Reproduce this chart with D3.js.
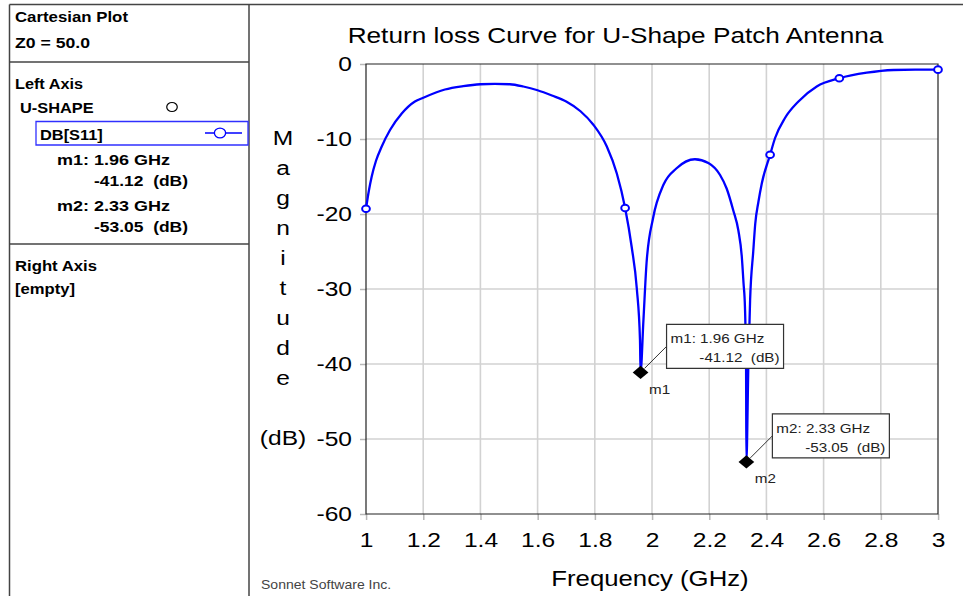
<!DOCTYPE html>
<html>
<head>
<meta charset="utf-8">
<script src="https://cdn.jsdelivr.net/npm/d3@7"></script>
<style>
  body { margin: 0; background: #fff; }
  svg { display: block; font-family: "Liberation Sans", Arial, sans-serif; }
  .pre { white-space: pre; }
</style>
</head>
<body>
<svg id="chart"></svg>
<script>
// DB[S11] of the U-shape patch
const freq = [1.000, 1.010, 1.020, 1.035, 1.055, 1.084, 1.125, 1.171, 1.200, 1.276, 1.340, 1.400, 1.450,
              1.503, 1.550, 1.600, 1.650, 1.700, 1.750, 1.795, 1.842, 1.877, 1.906, 1.929, 1.947, 1.958,
              1.960, 1.970, 1.981, 2.004, 2.040, 2.086, 2.150, 2.197, 2.238, 2.261, 2.284, 2.302, 2.314,
              2.320, 2.325, 2.329, 2.330, 2.337, 2.343, 2.354, 2.361, 2.372, 2.384, 2.413, 2.430, 2.465,
              2.512, 2.576, 2.655, 2.751, 2.844, 2.920, 3.000];
const s11 = [-19.3, -16.9, -15.0, -12.9, -11.0, -8.8, -6.6, -5.0, -4.5, -3.4, -2.95, -2.7, -2.65,
             -2.7, -3.0, -3.5, -4.2, -5.0, -6.3, -8.1, -11.0, -14.6, -19.2, -24.4, -30.0, -36.8,
             -41.12, -34.2, -26.5, -20.5, -16.1, -13.9, -12.7, -13.2, -14.8, -16.6, -19.5, -22.2, -25.7,
             -29.2, -32.4, -41.0, -53.05, -40.0, -31.5, -25.0, -21.3, -18.4, -15.9, -12.1, -9.9, -7.2,
             -5.0, -3.0, -1.9, -1.16, -0.8, -0.75, -0.75];

// simulated frequency points (open circles)
const simFreq = [1.000, 1.906, 2.413, 2.655, 3.000];
const simDb = [-19.3, -19.2, -12.1, -1.9, -0.75];

const markerNames = ["m1", "m2"];
const markerFreq = [1.96, 2.33];
const markerDb = [-41.12, -53.05];

const xTicks = [1, 1.2, 1.4, 1.6, 1.8, 2, 2.2, 2.4, 2.6, 2.8, 3];
const xTickLabels = ["1", "1.2", "1.4", "1.6", "1.8", "2", "2.2", "2.4", "2.6", "2.8", "3"];
const yTicks = [0, -10, -20, -30, -40, -50, -60];
const yTickLabels = ["0", "-10", "-20", "-30", "-40", "-50", "-60"];

const W = 963, H = 596;
const SX = 1.17;            // the screenshot is stretched sideways
const px = v => v / SX;     // screen x -> drawing x

const svg = d3.select("#chart").attr("width", W).attr("height", H);
const g = svg.append("g").attr("transform", "scale(" + SX + ",1)");

const x = d3.scaleLinear().domain([1, 3]).range([px(366), px(938)]);
const y = d3.scaleLinear().domain([-60, 0]).range([514, 64]);

// window frame + left info panel
const frame = [
  [9.5, 4.5, 963, 4.5],
  [9.5, 4.5, 9.5, 596],
  [249, 4.5, 249, 596],
  [9.5, 62, 249, 62],
  [9.5, 244, 249, 244]
];
g.append("g").selectAll("line")
  .data(frame)
  .join("line")
  .attr("x1", d => px(d[0])).attr("y1", d => d[1])
  .attr("x2", d => px(d[2])).attr("y2", d => d[3])
  .attr("stroke", "#444")
  .attr("stroke-width", 1.5)
  .attr("vector-effect", "non-scaling-stroke");

const panel = g.append("g").attr("font-size", "14px").attr("font-weight", "bold").attr("fill", "#000");
// text, left, baseline, width on screen (0 = natural)
const panelText = [
  ["Cartesian Plot", 15, 22, 113],
  ["Z0 = 50.0", 15, 48, 75],
  ["Left Axis", 15, 89, 68],
  ["U-SHAPE", 20, 113, 0],
  ["DB[S11]", 40, 140, 0],
  ["m1: 1.96 GHz", 57, 165, 113],
  ["-41.12  (dB)", 94, 186, 94],
  ["m2: 2.33 GHz", 57, 211, 113],
  ["-53.05  (dB)", 94, 232, 94],
  ["Right Axis", 15, 271, 82],
  ["[empty]", 15, 294, 60]
];
panel.selectAll("text")
  .data(panelText)
  .join("text")
  .attr("class", "pre")
  .attr("x", d => px(d[1]))
  .attr("y", d => d[2])
  .each(function(d) {
    if (d[3]) d3.select(this).attr("textLength", px(d[3])).attr("lengthAdjust", "spacingAndGlyphs");
  })
  .text(d => d[0]);

g.append("circle")
  .attr("cx", px(172)).attr("cy", 107).attr("r", 4.5)
  .attr("fill", "none").attr("stroke", "#000").attr("stroke-width", 1.2)
  .attr("vector-effect", "non-scaling-stroke");
g.append("rect")
  .attr("x", px(36)).attr("y", 121.5).attr("width", px(212)).attr("height", 23.5)
  .attr("fill", "none").attr("stroke", "#3030ff").attr("stroke-width", 1.3)
  .attr("vector-effect", "non-scaling-stroke");
g.append("line")
  .attr("x1", px(205)).attr("x2", px(242)).attr("y1", 133).attr("y2", 133)
  .attr("stroke", "#0000ff").attr("stroke-width", 1.3)
  .attr("vector-effect", "non-scaling-stroke");
g.append("circle")
  .attr("cx", px(220)).attr("cy", 133).attr("r", 4.8)
  .attr("fill", "#fff").attr("stroke", "#0000ff").attr("stroke-width", 1.3)
  .attr("vector-effect", "non-scaling-stroke");

// grid
g.append("g").selectAll("line")
  .data(xTicks.slice(1, -1))
  .join("line")
  .attr("x1", d => x(d)).attr("x2", d => x(d))
  .attr("y1", y(0)).attr("y2", y(-60))
  .attr("stroke", "#d2d2d2").attr("stroke-width", 1.6)
  .attr("vector-effect", "non-scaling-stroke");
g.append("g").selectAll("line")
  .data(yTicks.slice(1, -1))
  .join("line")
  .attr("x1", x(1)).attr("x2", x(3))
  .attr("y1", d => y(d)).attr("y2", d => y(d))
  .attr("stroke", "#d2d2d2").attr("stroke-width", 1.6)
  .attr("vector-effect", "non-scaling-stroke");

// axes
const yAxis = g.append("g")
  .attr("transform", "translate(" + x(1) + ",0)")
  .call(d3.axisLeft(y).tickValues(yTicks).tickSize(px(6)).tickPadding(px(8))
          .tickFormat((d, i) => yTickLabels[i]));
const xAxis = g.append("g")
  .attr("transform", "translate(0," + y(-60) + ")")
  .call(d3.axisBottom(x).tickValues(xTicks).tickSize(6).tickPadding(12)
          .tickFormat((d, i) => xTickLabels[i]));
[yAxis, xAxis].forEach(a => {
  a.select(".domain").remove();
  a.selectAll(".tick line").attr("stroke", "#b8b8b8").attr("stroke-width", 1.5)
    .attr("vector-effect", "non-scaling-stroke");
  a.selectAll(".tick text").attr("font-size", "21px").attr("fill", "#000")
    .attr("font-family", "'Liberation Sans', Arial, sans-serif");
});

g.append("rect")
  .attr("x", x(1)).attr("y", y(0))
  .attr("width", x(3) - x(1)).attr("height", y(-60) - y(0))
  .attr("fill", "none").attr("stroke", "#222").attr("stroke-width", 1.2)
  .attr("vector-effect", "non-scaling-stroke");

// the curve
const pts = freq.map((f, i) => [f, s11[i]]);
g.append("path")
  .datum(pts)
  .attr("d", d3.line().x(d => x(d[0])).y(d => y(d[1])).curve(d3.curveMonotoneX))
  .attr("fill", "none")
  .attr("stroke", "#0000ff")
  .attr("stroke-width", 2.3)
  .attr("stroke-linejoin", "round")
  .attr("vector-effect", "non-scaling-stroke");

g.append("g").selectAll("circle")
  .data(simFreq)
  .join("circle")
  .attr("cx", d => x(d))
  .attr("cy", (d, i) => y(simDb[i]))
  .attr("r", 3.3)
  .attr("fill", "#fff")
  .attr("stroke", "#0000ff")
  .attr("stroke-width", 2)
  .attr("vector-effect", "non-scaling-stroke");

// markers with their readout boxes
const mk = g.append("g").attr("font-size", "13px").attr("fill", "#222");
markerNames.forEach((name, i) => {
  const mx = x(markerFreq[i]), my = y(markerDb[i]);
  const bx = mx + px(26), by = my - 48;
  mk.append("line")
    .attr("x1", mx + px(4)).attr("y1", my - 4)
    .attr("x2", bx).attr("y2", by + 22)
    .attr("stroke", "#333").attr("stroke-width", 1)
    .attr("vector-effect", "non-scaling-stroke");
  mk.append("path")
    .attr("d", d3.symbol(d3.symbolSquare, 90)())
    .attr("transform", "translate(" + mx + "," + my + ") rotate(45)")
    .attr("fill", "#000");
  mk.append("rect")
    .attr("x", bx).attr("y", by)
    .attr("width", px(117)).attr("height", 44)
    .attr("fill", "#fff").attr("stroke", "#333").attr("stroke-width", 1.2)
    .attr("vector-effect", "non-scaling-stroke");
  mk.append("text")
    .attr("class", "pre")
    .attr("x", bx + px(4)).attr("y", by + 19)
    .text(name + ": " + markerFreq[i].toFixed(2) + " GHz");
  mk.append("text")
    .attr("class", "pre")
    .attr("x", bx + px(113)).attr("y", by + 38)
    .attr("text-anchor", "end")
    .text(markerDb[i].toFixed(2) + "  (dB)");
  mk.append("text")
    .attr("x", mx + px(8.5)).attr("y", my + 21.5)
    .text(name);
});

// titles
g.append("text")
  .attr("x", px(615.5)).attr("y", 43)
  .attr("text-anchor", "middle")
  .attr("font-size", "22.4px")
  .text("Return loss Curve for U-Shape Patch Antenna");

g.append("text")
  .attr("x", px(650)).attr("y", 586)
  .attr("text-anchor", "middle")
  .attr("font-size", "22px")
  .text("Frequency (GHz)");

const yLetters = ["M", "a", "g", "n", "i", "t", "u", "d", "e"];
g.append("g").attr("font-size", "21px").attr("text-anchor", "middle")
  .selectAll("text")
  .data(yLetters)
  .join("text")
  .attr("x", px(283))
  .attr("y", (d, i) => 138 + i * 30)
  .attr("dy", "0.35em")
  .text(d => d);
g.append("text")
  .attr("x", px(283)).attr("y", 438).attr("dy", "0.35em")
  .attr("text-anchor", "middle").attr("font-size", "21px")
  .text("(dB)");

g.append("text")
  .attr("x", px(261)).attr("y", 589)
  .attr("font-size", "12px").attr("fill", "#444")
  .text("Sonnet Software Inc.");
</script>
</body>
</html>
